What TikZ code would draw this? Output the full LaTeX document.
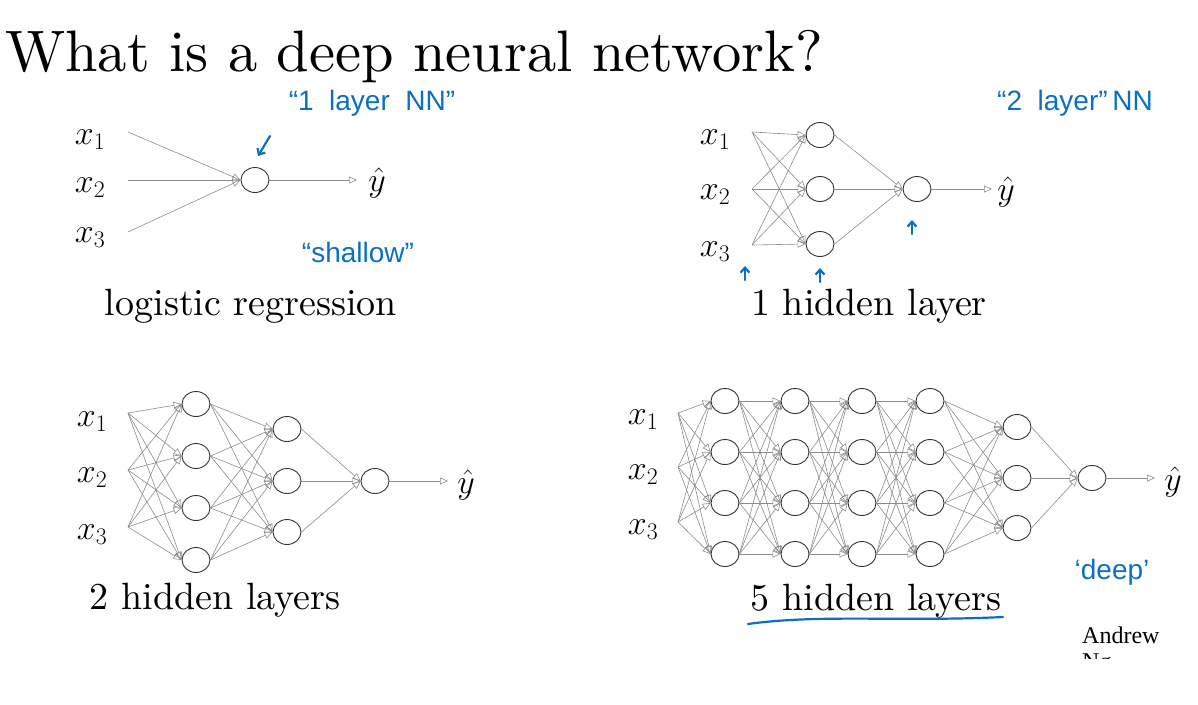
\documentclass[tikz,border=0pt]{standalone}
\usepackage{fix-cm}
\usepackage{fontspec}
\usepackage{amsmath}
\usetikzlibrary{arrows.meta,shapes.geometric,calc}
\newfontfamily\handfont{Liberation Sans}
\newfontfamily\timesfont{Liberation Serif}
\newfontfamily\lmten{lmroman10-regular}[Extension=.otf]
\definecolor{inkblue}{HTML}{0B6FC4}

\tikzset{
  neuron/.style={ellipse, draw=black!80, line width=0.9pt, fill=white, minimum width=28pt, minimum height=25pt, inner sep=0pt},
  synapse/.style={draw=black!45, line width=0.6pt, -{Triangle[open, length=8pt, width=7pt]}},
  inlabel/.style={inner sep=1pt, font=\fontsize{34}{34}\selectfont},
  caption/.style={anchor=base, font=\lmten\fontsize{38}{40}\selectfont},
  ink/.style={inkblue, line width=2.2pt, line cap=round, line join=round},
  inktext/.style={inkblue, font=\handfont\fontsize{28}{28}\selectfont},
}

\begin{document}
\begin{tikzpicture}[x=1pt, y=-1pt]
\useasboundingbox (0,0) rectangle (1198,704);

% Title
\node[anchor=base west, inner sep=0pt, font=\lmten\fontsize{58.5}{62}\selectfont] (title) at (5,71) {What is a deep neural network?};

% Logistic regression
\node[inlabel] (a-x1) at (90,140) {$x_1$};
\node[inlabel] (a-x2) at (90,188) {$x_2$};
\node[inlabel] (a-x3) at (90,238) {$x_3$};
\foreach \i/\y in {1/132,2/180,3/232}
  \coordinate (a-i\i) at (128,\y);
\node[neuron] (a-o) at (255,180) {};
\coordinate (a-e) at (357,180);
\node[inlabel] (a-y) at (377,183) {$\hat{y}$};
\foreach \i in {1,2,3}
  \draw[synapse] (a-i\i) -- (a-o.west);
\draw[synapse] (a-o.east) -- (a-e);
\node[caption] (a-cap) at (251,315) {logistic regression};

% 1 hidden layer
\node[inlabel] (b-x1) at (715,140) {$x_1$};
\node[inlabel] (b-x2) at (715,195) {$x_2$};
\node[inlabel] (b-x3) at (715,252) {$x_3$};
\foreach \i/\y in {1/132,2/189,3/245}
  \coordinate (b-i\i) at (752,\y);
\foreach \j/\y in {1/135,2/189,3/244}
  \node[neuron] (b-h\j) at (820,\y) {};
\node[neuron] (b-o) at (917,189) {};
\coordinate (b-e) at (992,189);
\node[inlabel] (b-y) at (1006,192) {$\hat{y}$};
\foreach \i in {1,2,3}
  \foreach \j in {1,2,3}
    \draw[synapse] (b-i\i) -- (b-h\j.west);
\foreach \j in {1,2,3}
  \draw[synapse] (b-h\j.east) -- (b-o.west);
\draw[synapse] (b-o.east) -- (b-e);
\node[caption] (b-cap) at (869,315) {1 hidden layer};

% 2 hidden layers
\node[inlabel] (c-x1) at (92,422) {$x_1$};
\node[inlabel] (c-x2) at (92,478) {$x_2$};
\node[inlabel] (c-x3) at (92,535) {$x_3$};
\foreach \i/\y in {1/413,2/470,3/527}
  \coordinate (c-i\i) at (128,\y);
\foreach \j/\y in {1/404,2/456,3/508,4/560}
  \node[neuron] (c-p\j) at (196,\y) {};
\foreach \k/\y in {1/429,2/481,3/532}
  \node[neuron] (c-q\k) at (287,\y) {};
\node[neuron] (c-o) at (375,481) {};
\coordinate (c-e) at (448,481);
\node[inlabel] (c-y) at (466,485) {$\hat{y}$};
\foreach \i in {1,2,3}
  \foreach \j in {1,...,4}
    \draw[synapse] (c-i\i) -- (c-p\j.west);
\foreach \j in {1,...,4}
  \foreach \k in {1,2,3}
    \draw[synapse] (c-p\j.east) -- (c-q\k.west);
\foreach \k in {1,2,3}
  \draw[synapse] (c-q\k.east) -- (c-o.west);
\draw[synapse] (c-o.east) -- (c-e);
\node[caption] (c-cap) at (215,609) {2 hidden layers};

% 5 hidden layers
\node[inlabel] (d-x1) at (643,420) {$x_1$};
\node[inlabel] (d-x2) at (643,475) {$x_2$};
\node[inlabel] (d-x3) at (643,530) {$x_3$};
\foreach \i/\y in {1/413,2/467,3/522}
  \coordinate (d-i\i) at (678,\y);
\foreach \l/\x in {1/725,2/795,3/862,4/930}
  \foreach \j/\y in {1/401,2/452,3/503,4/554}
    \node[neuron] (d-h\l\j) at (\x,\y) {};
\foreach \k/\y in {1/427,2/478,3/528}
  \node[neuron] (d-h5\k) at (1017,\y) {};
\node[neuron] (d-o) at (1092,478) {};
\coordinate (d-e) at (1155,478);
\node[inlabel] (d-y) at (1173,482) {$\hat{y}$};
\foreach \i in {1,2,3}
  \foreach \j in {1,...,4}
    \draw[synapse] (d-i\i) -- (d-h1\j.west);
\foreach \l [evaluate=\l as \m using int(\l+1)] in {1,2,3}
  \foreach \j in {1,...,4}
    \foreach \k in {1,...,4}
      \draw[synapse] (d-h\l\j.east) -- (d-h\m\k.west);
\foreach \j in {1,...,4}
  \foreach \k in {1,2,3}
    \draw[synapse] (d-h4\j.east) -- (d-h5\k.west);
\foreach \k in {1,2,3}
  \draw[synapse] (d-h5\k.east) -- (d-o.west);
\draw[synapse] (d-o.east) -- (d-e);
\node[caption] (d-cap) at (876,610) {5 hidden layers};

% Handwritten notes
\node[inktext] (n-one) at (372,103) {“1\ \ layer\ \ NN”};
\draw[ink, -{Straight Barb[length=5pt, width=9pt]}] (270,136) -- (258,156);
\node[inktext] (n-shallow) at (358,252) {“shallow”};
\node[inktext] (n-two) at (1075,103) {“2\ \ layer”\,NN};
\foreach \x/\y in {745/280,820/282,912/234}
  \draw[ink, -{Straight Barb[length=5pt, width=9pt]}] (\x,\y) -- (\x,\y-14);
\node[inktext] (n-deep) at (1112,572) {‘deep’};
\draw[ink] (748,624) .. controls (820,614) and (900,622) .. (1003,617);

% Author
\begin{scope}
  \clip (1060,600) rectangle (1198,658);
  \node[anchor=north west, align=left, inner sep=0pt, font=\timesfont\fontsize{24}{26}\selectfont] (author) at (1082,627) {Andrew\\Ng};
\end{scope}
\end{tikzpicture}
\end{document}
